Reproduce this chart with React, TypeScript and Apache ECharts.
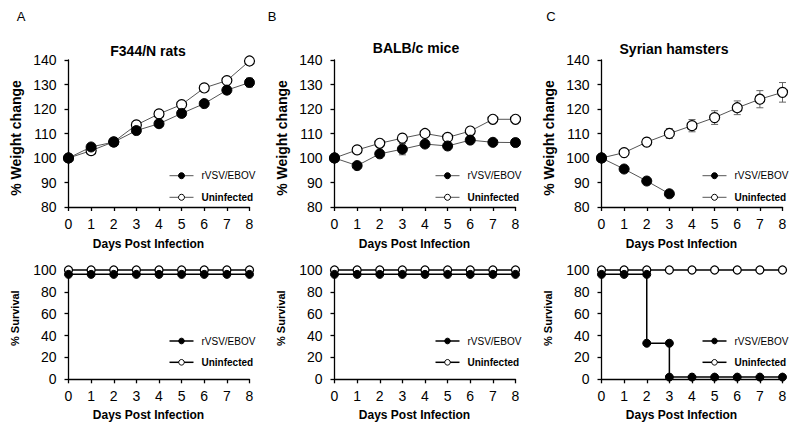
import React, { useEffect, useRef } from "react";
import * as echarts from "echarts";

const days = [0, 1, 2, 3, 4, 5, 6, 7, 8];
const dayTicks = ["0", "1", "2", "3", "4", "5", "6", "7", "8"];

// Weight change (%)
const ratsInfected = [100, 104.5, 106.5, 111.2, 114, 118.2, 122.2, 127.7, 130.8];
const ratsInfectedErr = [0, 0.8, 0.8, 1, 1, 1, 1, 1.5, 1.8];
const ratsUninfected = [100, 103, 106.6, 113.5, 118, 121.8, 128.6, 131.6, 139.6];
const ratsUninfectedErr = [0, 0.5, 0.5, 0.5, 0.5, 0.5, 0.8, 0.8, 0.8];

const miceInfected = [100, 96.9, 101.7, 103.6, 105.7, 104.9, 107.3, 106.4, 106.3];
const miceInfectedErr = [0, 0.8, 1, 2.3, 1, 1, 1, 0.8, 0.8];
const miceUninfected = [100, 103.3, 106, 108.1, 110, 108.4, 111, 115.8, 115.8];
const miceUninfectedErr = [0, 0.5, 0.5, 0.8, 0.5, 1, 0.8, 0.5, 0.5];

const hamsterDaysInfected = [0, 1, 2, 3];
const hamsterInfected = [100, 95.5, 90.6, 85.4];
const hamsterInfectedErr = [0, 0.8, 0.8, 0.8];
const hamsterUninfected = [100, 102.2, 106.5, 110, 113.2, 116.5, 120.5, 124, 126.8];
const hamsterUninfectedErr = [0, 0.8, 1, 2, 2.5, 2.8, 2.8, 3.5, 4];

// Survival (%)
const ratsSurvInfected = [96, 96, 96, 96, 96, 96, 96, 96, 96];
const ratsSurvUninfected = [100, 100, 100, 100, 100, 100, 100, 100, 100];
const miceSurvInfected = [96, 96, 96, 96, 96, 96, 96, 96, 96];
const miceSurvUninfected = [100, 100, 100, 100, 100, 100, 100, 100, 100];
const hamsterSurvInfectedDays = [0, 1, 2, 2, 3, 3, 4, 5, 6, 7, 8];
const hamsterSurvInfected = [96, 96, 96, 33, 33, 2, 2, 2, 2, 2, 2];
const hamsterSurvUninfected = [100, 100, 100, 100, 100, 100, 100, 100, 100];

const weightTicks = [80, 90, 100, 110, 120, 130, 140];
const survivalTicks = [0, 20, 40, 60, 80, 100];

const titles = ["F344/N rats", "BALB/c mice", "Syrian hamsters"];
const letters = ["A", "B", "C"];
const seriesNames = ["rVSV/EBOV", "Uninfected"];

const FONT = "'Liberation Sans', Arial, Helvetica, sans-serif";

const pair = (xs: number[], ys: number[]) => ys.map((y, i) => [xs[i], y]);
const triple = (xs: number[], ys: number[], es: number[]) =>
  ys.map((y, i) => [xs[i], y, es[i]]);

const weightPanels = [
  { inf: pair(days, ratsInfected), infErr: triple(days, ratsInfected, ratsInfectedErr), un: pair(days, ratsUninfected), unErr: triple(days, ratsUninfected, ratsUninfectedErr) },
  { inf: pair(days, miceInfected), infErr: triple(days, miceInfected, miceInfectedErr), un: pair(days, miceUninfected), unErr: triple(days, miceUninfected, miceUninfectedErr) },
  { inf: pair(hamsterDaysInfected, hamsterInfected), infErr: triple(hamsterDaysInfected, hamsterInfected, hamsterInfectedErr), un: pair(days, hamsterUninfected), unErr: triple(days, hamsterUninfected, hamsterUninfectedErr) },
];
const survivalPanels = [
  { inf: pair(days, ratsSurvInfected), un: pair(days, ratsSurvUninfected) },
  { inf: pair(days, miceSurvInfected), un: pair(days, miceSurvUninfected) },
  { inf: pair(hamsterSurvInfectedDays, hamsterSurvInfected), un: pair(days, hamsterSurvUninfected) },
];

const gridLefts = [68.5, 334.5, 601.5];
const gridWidth = 181;
const titleX = [148, 416, 674];
const titleY = [51, 48, 49];
const letterX = [21, 272, 551];

function errorRender(params: any, api: any) {
  const x = api.value(0);
  const y = api.value(1);
  const e = api.value(2);
  if (!e) return null;
  const top = api.coord([x, y + e]);
  const bot = api.coord([x, y - e]);
  const cx = top[0];
  const st = { stroke: "#666", lineWidth: 1 };
  return {
    type: "group",
    children: [
      { type: "line", shape: { x1: cx, y1: top[1], x2: cx, y2: bot[1] }, style: st },
      { type: "line", shape: { x1: cx - 3.5, y1: top[1], x2: cx + 3.5, y2: top[1] }, style: st },
      { type: "line", shape: { x1: cx - 3.5, y1: bot[1], x2: cx + 3.5, y2: bot[1] }, style: st },
    ],
  };
}

function buildOption() {
  const grid: any[] = [];
  const xAxis: any[] = [];
  const yAxis: any[] = [];
  const series: any[] = [];
  const graphic: any[] = [];

  const axisLine = { show: true, onZero: false, lineStyle: { color: "#000", width: 1.3 } };
  const axisTick = { show: true, length: 4, lineStyle: { color: "#000", width: 1.3 } };

  for (let p = 0; p < 3; p++) {
    const left = gridLefts[p];
    grid.push({ left, top: 60, width: gridWidth, height: 147 });
    grid.push({ left, top: 270, width: gridWidth, height: 109.3 });
  }

  for (let g = 0; g < 6; g++) {
    const isWeight = g % 2 === 0;
    xAxis.push({
      type: "value",
      gridIndex: g,
      min: 0,
      max: 8,
      interval: 1,
      name: "Days Post Infection",
      nameLocation: "middle",
      nameGap: isWeight ? 31 : 30,
      nameTextStyle: { fontFamily: FONT, fontSize: 12, fontWeight: "bold", color: "#000", padding: [0, 21, 0, 0] },
      axisLine,
      axisTick,
      splitLine: { show: false },
      axisLabel: {
        margin: 10,
        fontFamily: FONT,
        fontSize: 14,
        color: "#000",
        formatter: (v: number) => dayTicks[v] ?? "",
      },
    });
    yAxis.push({
      type: "value",
      gridIndex: g,
      min: isWeight ? weightTicks[0] : survivalTicks[0],
      max: isWeight ? weightTicks[weightTicks.length - 1] : survivalTicks[survivalTicks.length - 1],
      interval: isWeight ? 10 : 20,
      name: isWeight ? "% Weight change" : "% Survival",
      nameLocation: "middle",
      nameGap: isWeight ? 46 : 48,
      nameTextStyle: {
        fontFamily: FONT,
        fontSize: isWeight ? 14 : 11,
        fontWeight: "bold",
        color: "#000",
        padding: isWeight ? [0, 9, 0, 0] : [0, 0, 0, 13],
      },
      axisLine,
      axisTick,
      splitLine: { show: false },
      axisLabel: { margin: 12, fontFamily: FONT, fontSize: 14, color: "#000" },
    });
  }

  for (let p = 0; p < 3; p++) {
    const wg = p * 2;
    const sg = p * 2 + 1;
    const wp = weightPanels[p];
    const sp = survivalPanels[p];
    series.push({
      type: "custom",
      xAxisIndex: wg,
      yAxisIndex: wg,
      renderItem: errorRender,
      data: wp.unErr,
      encode: { x: 0, y: 1 },
      z: 1,
      silent: true,
    });
    series.push({
      type: "custom",
      xAxisIndex: wg,
      yAxisIndex: wg,
      renderItem: errorRender,
      data: wp.infErr,
      encode: { x: 0, y: 1 },
      z: 1,
      silent: true,
    });
    series.push({
      name: seriesNames[1],
      type: "line",
      xAxisIndex: wg,
      yAxisIndex: wg,
      data: wp.un,
      symbol: "circle",
      symbolSize: 10,
      lineStyle: { color: "#555", width: 1 },
      itemStyle: { color: "#fff", borderColor: "#000", borderWidth: 1.2 },
      z: 3,
    });
    series.push({
      name: seriesNames[0],
      type: "line",
      xAxisIndex: wg,
      yAxisIndex: wg,
      data: wp.inf,
      symbol: "circle",
      symbolSize: 10,
      lineStyle: { color: "#555", width: 1 },
      itemStyle: { color: "#000", borderColor: "#000", borderWidth: 1 },
      z: 4,
    });
    series.push({
      name: seriesNames[1],
      type: "line",
      xAxisIndex: sg,
      yAxisIndex: sg,
      data: sp.un,
      symbol: "circle",
      symbolSize: 8,
      clip: false,
      lineStyle: { color: "#000", width: 1.5 },
      itemStyle: { color: "#fff", borderColor: "#000", borderWidth: 1.3 },
      z: 3,
    });
    series.push({
      name: seriesNames[0],
      type: "line",
      xAxisIndex: sg,
      yAxisIndex: sg,
      data: sp.inf,
      symbol: "circle",
      symbolSize: 8,
      clip: false,
      lineStyle: { color: "#000", width: 1.5 },
      itemStyle: { color: "#000", borderColor: "#000", borderWidth: 1 },
      z: 4,
    });

    graphic.push({
      type: "text",
      x: titleX[p],
      y: titleY[p],
      style: { text: titles[p], fontFamily: FONT, fontSize: 14, fontWeight: "bold", fill: "#000", align: "center", verticalAlign: "middle" },
    });
    graphic.push({
      type: "text",
      x: letterX[p],
      y: 16,
      style: { text: letters[p], fontFamily: FONT, fontSize: 13, fill: "#000", align: "center", verticalAlign: "middle" },
    });

    const mx = gridLefts[p] + 113;
    const legendRows = [
      { y: 175.7, weight: true },
      { y: 197.3, weight: true },
      { y: 341, weight: false },
      { y: 362.3, weight: false },
    ];
    legendRows.forEach((row, k) => {
      const filled = k % 2 === 0;
      graphic.push({
        type: "line",
        shape: { x1: mx - 12, y1: row.y, x2: mx + 12, y2: row.y },
        style: { stroke: row.weight ? "#555" : "#000", lineWidth: row.weight ? 1 : 1.5 },
      });
      graphic.push({
        type: "circle",
        shape: { cx: mx, cy: row.y, r: row.weight ? 3 : 2.8 },
        style: { fill: filled ? "#000" : "#fff", stroke: "#000", lineWidth: 1 },
      });
      graphic.push({
        type: "text",
        x: mx + 20,
        y: row.y,
        style: {
          text: seriesNames[filled ? 0 : 1],
          fontFamily: FONT,
          fontSize: 10,
          fontWeight: filled ? "normal" : "bold",
          fill: "#000",
          align: "left",
          verticalAlign: "middle",
        },
      });
    });
  }

  return {
    animation: false,
    backgroundColor: "#fff",
    grid,
    xAxis,
    yAxis,
    series,
    graphic,
  };
}

export default function App() {
  const ref = useRef<HTMLDivElement>(null);
  useEffect(() => {
    if (!ref.current) return;
    const chart = echarts.init(ref.current, null, { renderer: "svg" });
    chart.setOption(buildOption() as any);
    return () => chart.dispose();
  }, []);
  return (
    <div
      ref={ref}
      style={{ position: "fixed", left: 0, top: 0, width: 797, height: 428, background: "#fff" }}
    />
  );
}
